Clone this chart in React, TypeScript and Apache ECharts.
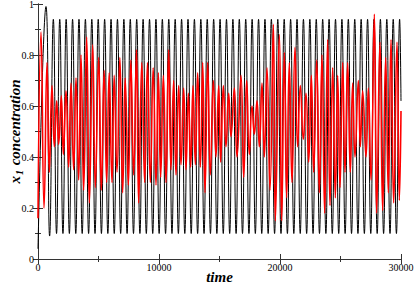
import React, { useEffect, useRef } from "react";
import * as echarts from "echarts";

const xTickLabels = ["0", "10000", "20000", "30000"];
const yTickLabels = ["0", "0.2", "0.4", "0.6", "0.8", "1"];

// black trace: extrema (time, value)
const blackTime = [
  0, 661, 960,
  1267, 1532, 1797, 2062, 2327, 2592, 2857, 3122, 3387, 3652, 3917, 4182, 4447, 4712,
  4977, 5242, 5507, 5772, 6037, 6302, 6567, 6832, 7097, 7362, 7627, 7892, 8157, 8422,
  8687, 8952, 9217, 9482, 9747, 10012, 10277, 10542, 10807, 11072, 11337, 11602, 11867, 12132,
  12397, 12662, 12927, 13192, 13457, 13722, 13987, 14252, 14517, 14782, 15047, 15312, 15577, 15842,
  16107, 16372, 16637, 16902, 17167, 17432, 17697, 17962, 18227, 18492, 18757, 19022, 19287, 19552,
  19817, 20082, 20347, 20612, 20877, 21142, 21407, 21672, 21937, 22202, 22467, 22732, 22997, 23262,
  23527, 23792, 24057, 24322, 24587, 24852, 25117, 25382, 25647, 25912, 26177, 26442, 26707, 26972,
  27237, 27502, 27767, 28032, 28297, 28562, 28827, 29092, 29357, 29622, 29887, 30000,
];
const blackValue = [
  0.04, 0.99, 0.09,
  0.94, 0.1, 0.94, 0.1, 0.94, 0.1, 0.94, 0.1, 0.94, 0.1, 0.94, 0.1, 0.94, 0.1,
  0.94, 0.1, 0.94, 0.1, 0.94, 0.1, 0.94, 0.1, 0.94, 0.1, 0.94, 0.1, 0.94, 0.1,
  0.94, 0.1, 0.94, 0.1, 0.94, 0.1, 0.94, 0.1, 0.94, 0.1, 0.94, 0.1, 0.94, 0.1,
  0.94, 0.1, 0.94, 0.1, 0.94, 0.1, 0.94, 0.1, 0.94, 0.1, 0.94, 0.1, 0.94, 0.1,
  0.94, 0.1, 0.94, 0.1, 0.94, 0.1, 0.94, 0.1, 0.94, 0.1, 0.94, 0.1, 0.94, 0.1,
  0.94, 0.1, 0.94, 0.1, 0.94, 0.1, 0.94, 0.1, 0.94, 0.1, 0.94, 0.1, 0.94, 0.1,
  0.94, 0.1, 0.94, 0.1, 0.94, 0.1, 0.94, 0.1, 0.94, 0.1, 0.94, 0.1, 0.94, 0.1,
  0.94, 0.1, 0.94, 0.1, 0.94, 0.1, 0.94, 0.1, 0.94, 0.1, 0.94, 0.62,
];

// red trace: extrema (time, value)
const redTime = [
  0, 250, 500, 744, 935, 1157, 1350, 1543, 1708, 1928, 2094, 2314, 2534, 2727, 2948, 3140, 3361, 3554, 3774, 4022, 4242, 4518, 4738,
  5014, 5234, 5469, 5675, 5882, 6115, 6296, 6529, 6764, 6997, 7204, 7465, 7672, 7906, 8140, 8319, 8581, 8815, 9050, 9284, 9518, 9752,
  9945, 10137, 10358, 10578, 10799, 10992, 11212, 11405, 11625, 11818, 12039, 12231, 12425, 12617, 12810, 13003, 13196, 13416, 13609, 13801, 14023, 14243, 14492, 14710,
  14933, 15097, 15317, 15537, 15758, 15950, 16226, 16446, 16777, 17000, 17245, 17465, 17686, 17878, 18099, 18291, 18512, 18705, 18925, 19173, 19451, 19614,
  19945, 20138, 20358, 20551, 20771, 20991, 21240, 21460, 21680, 21928, 22149, 22369, 22590, 22783, 23031, 23251, 23471, 23692, 23940, 24132, 24353, 24573, 24767,
  24959, 25179, 25372, 25593, 25813, 26006, 26198, 26474, 26639, 26832, 27107, 27300, 27520, 27796, 27989, 28264, 28485, 28733, 28953, 29174, 29394, 29669, 29862, 30000,
];
const redValue = [
  0.16, 0.89, 0.2, 0.77, 0.34, 0.68, 0.44, 0.62, 0.45, 0.64, 0.41, 0.66, 0.36, 0.69, 0.35, 0.71, 0.31, 0.8, 0.27, 0.87, 0.22, 0.84, 0.28,
  0.79, 0.27, 0.74, 0.3, 0.73, 0.3, 0.72, 0.34, 0.79, 0.26, 0.71, 0.29, 0.78, 0.33, 0.82, 0.22, 0.77, 0.3, 0.77, 0.3, 0.75, 0.29,
  0.73, 0.32, 0.72, 0.3, 0.82, 0.35, 0.7, 0.33, 0.68, 0.37, 0.67, 0.35, 0.65, 0.36, 0.68, 0.37, 0.73, 0.36, 0.77, 0.26, 0.77, 0.33, 0.7, 0.4,
  0.68, 0.38, 0.68, 0.44, 0.65, 0.48, 0.67, 0.4, 0.72, 0.32, 0.7, 0.41, 0.6, 0.49, 0.62, 0.44, 0.69, 0.4, 0.75, 0.27, 0.92, 0.15,
  0.88, 0.15, 0.81, 0.24, 0.77, 0.3, 0.83, 0.44, 0.68, 0.47, 0.65, 0.38, 0.72, 0.34, 0.78, 0.26, 0.8, 0.18, 0.86, 0.21, 0.75, 0.24, 0.72,
  0.28, 0.77, 0.34, 0.77, 0.34, 0.69, 0.4, 0.7, 0.44, 0.66, 0.4, 0.67, 0.31, 0.96, 0.18, 0.85, 0.19, 0.79, 0.26, 0.86, 0.22, 0.85, 0.23, 0.58,
];

const FONT = "'Liberation Serif', 'Times New Roman', serif";
const AXIS_COLOR = "#333";

export default function App() {
  const ref = useRef<HTMLDivElement>(null);
  useEffect(() => {
    if (!ref.current) return;
    const chart = echarts.init(ref.current, null, { renderer: "svg" });
    const blackData = blackTime.map((t, i) => [t, blackValue[i]]);
    const redData = redTime.map((t, i) => [t, redValue[i]]);
    const xBase = {
      type: "value" as const,
      min: 0,
      max: 30000,
      interval: 10000,
      axisLine: { show: true, lineStyle: { color: AXIS_COLOR, width: 1 } },
      axisTick: { show: true, inside: true, length: 5, lineStyle: { color: AXIS_COLOR } },
      minorTick: { show: true, splitNumber: 2, length: 3, lineStyle: { color: AXIS_COLOR } },
      splitLine: { show: false },
    };
    const yBase = {
      type: "value" as const,
      min: 0,
      max: 1,
      interval: 0.2,
      axisLine: { show: true, lineStyle: { color: AXIS_COLOR, width: 1 } },
      axisTick: { show: true, inside: true, length: 5, lineStyle: { color: AXIS_COLOR } },
      minorTick: { show: true, splitNumber: 2, length: 3, lineStyle: { color: AXIS_COLOR } },
      splitLine: { show: false },
    };
    chart.setOption({
      animation: false,
      backgroundColor: "#fff",
      grid: {
        left: 38,
        right: 14,
        top: 4,
        bottom: 26,
        containLabel: false,
        outerBoundsMode: "none",
      },
      xAxis: [
        {
          ...xBase,
          position: "bottom",
          axisLabel: {
            margin: 3,
            fontFamily: FONT,
            fontSize: 10,
            color: "#000",
            formatter: (v: number) => xTickLabels[Math.round(v / 10000)] ?? String(v),
          },
          name: "time",
          nameLocation: "middle",
          nameGap: 10,
          nameMoveOverlap: false,
          nameTextStyle: {
            fontFamily: FONT,
            fontSize: 15,
            fontWeight: "bold",
            fontStyle: "italic",
            color: "#000",
          },
        },
        { ...xBase, position: "top", axisLabel: { show: false } },
      ],
      yAxis: [
        {
          ...yBase,
          position: "left",
          axisLabel: {
            margin: 4,
            fontFamily: FONT,
            fontSize: 10,
            color: "#000",
            formatter: (v: number) => yTickLabels[Math.round(v / 0.2)] ?? String(v),
          },
          name: "{a|x}{s|1}{a| concentration}",
          nameLocation: "middle",
          nameRotate: 90,
          nameGap: 14,
          nameMoveOverlap: false,
          nameTextStyle: {
            rich: {
              a: {
                fontFamily: FONT,
                fontSize: 15,
                fontWeight: "bold",
                fontStyle: "italic",
                color: "#000",
              },
              s: {
                fontFamily: FONT,
                fontSize: 10,
                fontWeight: "bold",
                fontStyle: "italic",
                color: "#000",
                padding: [8, 1, 0, 1],
              },
            },
          },
        },
        { ...yBase, position: "right", axisLabel: { show: false } },
      ],
      series: [
        {
          type: "line",
          data: blackData,
          smooth: 0.5,
          showSymbol: false,
          symbol: "none",
          lineStyle: { color: "#000", width: 1 },
          z: 2,
        },
        {
          type: "line",
          data: redData,
          smooth: 0.5,
          showSymbol: false,
          symbol: "none",
          lineStyle: { color: "#ff0000", width: 1.6 },
          z: 3,
        },
      ],
    });
    return () => chart.dispose();
  }, []);
  return (
    <div
      ref={ref}
      style={{ position: "fixed", left: 0, top: 0, width: 415, height: 285 }}
    />
  );
}
